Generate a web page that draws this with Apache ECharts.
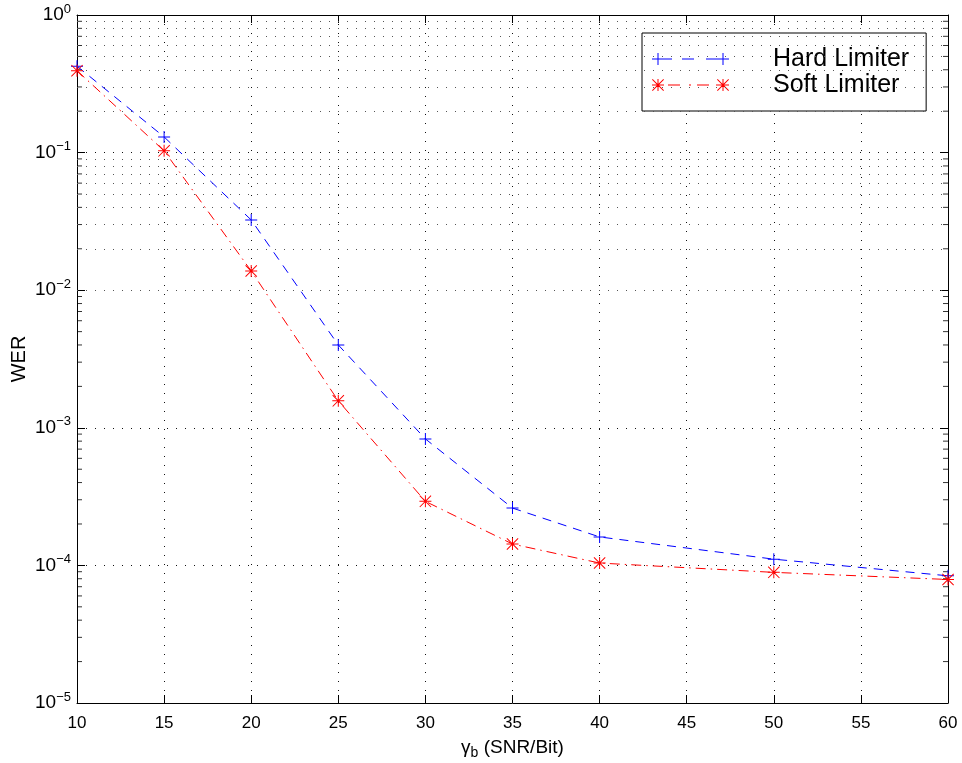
<!DOCTYPE html>
<html>
<head>
<meta charset="utf-8">
<script src="https://cdn.jsdelivr.net/npm/echarts@6/dist/echarts.min.js"></script>
<style>
  html, body { margin: 0; padding: 0; background: #fff; }
  #chart { width: 962px; height: 763px; }
</style>
</head>
<body>
<div id="chart"></div>
<script>
// WER vs SNR/Bit — hard vs soft limiter, log y axis (MATLAB-style look)

const SNR       = [10, 15, 20, 25, 30, 35, 40, 50, 60];
const WER_HARD  = [0.425, 0.130, 0.0324, 0.0040, 8.3e-4, 2.61e-4, 1.61e-4, 1.11e-4, 8.4e-5];
const WER_SOFT  = [0.394, 0.103, 0.0138, 0.00157, 2.92e-4, 1.43e-4, 1.04e-4, 8.9e-5, 7.9e-5];

const X_MIN = 10, X_MAX = 60, X_STEP = 5;
const Y_MIN = 1e-5, Y_MAX = 1;
// minor log grid: 2..9 x each decade
const DECADES = [1e-5, 1e-4, 1e-3, 1e-2, 1e-1];
const MULTS   = [2, 3, 4, 5, 6, 7, 8, 9];

const BLUE = "#0000ff";
const RED  = "#ff0000";
const FONT = "Liberation Sans, Arial, Helvetica, sans-serif";

// marker paths (filled thin bars, 12x12 box)
const PLUS_PATH = "path://M0,5.5h12v1h-12z M5.5,0h1v12h-1z";
const STAR_PATH = "path://M0,5.5h12v1h-12z M5.5,0h1v12h-1z M0.7,0L12,11.3L11.3,12L0,0.7z M11.3,0L12,0.7L0.7,12L0,11.3z";
// legend samples: marker - dashes - marker  (77x12 box)
const HARD_ICON = "path://M0,5.5h12v1h-12z M5.5,0h1v12h-1z M12,5.5h8v1h-8z M30,5.5h12v1h-12z M54,5.5h11v1h-11z M65,5.5h12v1h-12z M70.5,0h1v12h-1z";
const SOFT_ICON = "path://M0,5.5h12v1h-12z M5.5,0h1v12h-1z M0.7,0L12,11.3L11.3,12L0,0.7z M11.3,0L12,0.7L0.7,12L0,11.3z"
  + " M16,5.5h12v1h-12z M37,5.5h2v1h-2z M45,5.5h12v1h-12z M64,5.5h2v1h-2z"
  + " M65,5.5h12v1h-12z M70.5,0h1v12h-1z M65.7,0L77,11.3L76.3,12L65,0.7z M76.3,0L77,0.7L65.7,12L65,11.3z";

const minorVals = [];
DECADES.forEach(d => MULTS.forEach(m => minorVals.push(+(d * m).toPrecision(3))));

const chart = echarts.init(document.getElementById("chart"), null, { renderer: "canvas" });

const dotted = { color: "#111", type: [1, 8], width: 1 };

function expLabel(v) {
  const e = Math.round(Math.log10(v));
  const s = e < 0 ? "\u2212" + (-e) : String(e);
  return `{b|10}{s|${s}}`;
}

const yBase = {
  type: "log", logBase: 10, min: Y_MIN, max: Y_MAX,
  axisLine: { show: true, lineStyle: { color: "#000", width: 1 } },
  axisTick: { show: true, inside: true, length: 8, lineStyle: { color: "#000" } },
  splitLine: { show: false },
};
const xBase = {
  type: "value", min: X_MIN, max: X_MAX, interval: X_STEP,
  axisLine: { show: true, onZero: false, lineStyle: { color: "#000", width: 1 } },
  axisTick: { show: true, inside: true, length: 8, lineStyle: { color: "#000" } },
  splitLine: { show: false },
};

const minorTick = (x, off) => ({
  type: "scatter", xAxisIndex: 0, yAxisIndex: 0, silent: true,
  symbol: "rect", symbolSize: [5, 1], symbolOffset: [off, 0],
  itemStyle: { color: "#000" }, clip: false, z: 1,
  data: minorVals.map(v => [x, v]),
});

chart.setOption({
  backgroundColor: "#fff", animation: false,
  textStyle: { fontFamily: FONT },
  grid: { left: 77, right: 14, top: 15, bottom: 60, containLabel: false, outerBoundsMode: "none" },
  legend: {
    orient: "vertical", left: 642, top: 33,
    backgroundColor: "#fff", borderColor: "#000", borderWidth: 1, borderRadius: 0,
    padding: [13, 17, 13, 10], itemGap: 0,
    itemWidth: 77, itemHeight: 12,
    textStyle: { color: "#000", fontSize: 25, lineHeight: 26, padding: [0, 0, 0, 39], fontFamily: FONT },
    data: [
      { name: "Hard Limiter", icon: HARD_ICON },
      { name: "Soft Limiter", icon: SOFT_ICON },
    ],
  },
  xAxis: [
    { ...xBase, position: "bottom",
      name: "{g|\u03b3}{sub|b}{t| (SNR/Bit)}", nameLocation: "middle", nameGap: 33,
      nameMoveOverlap: false,
      nameTextStyle: { rich: {
        g: { fontSize: 19, color: "#000", fontFamily: FONT },
        sub: { fontSize: 14, color: "#000", padding: [10, 0, 0, 0], fontFamily: FONT },
        t: { fontSize: 19, color: "#000", fontFamily: FONT },
      } },
      axisLabel: { color: "#000", fontSize: 17, margin: 12, fontFamily: FONT },
      splitLine: { show: true, lineStyle: dotted } },
    { ...xBase, position: "top", axisLabel: { show: false } },
  ],
  yAxis: [
    { ...yBase, position: "left",
      name: "WER", nameLocation: "middle", nameGap: 48, nameMoveOverlap: false,
      nameTextStyle: { color: "#000", fontSize: 20, fontFamily: FONT },
      axisLabel: {
        margin: 6, formatter: expLabel,
        rich: {
          b: { fontSize: 19, color: "#000", fontFamily: FONT, lineHeight: 20 },
          s: { fontSize: 13, color: "#000", fontFamily: FONT, padding: [0, 0, 12, 0] },
        },
      },
      splitLine: { show: true, lineStyle: dotted } },
    { ...yBase, position: "right", axisLabel: { show: false } },
  ],
  series: [
    minorTick(X_MIN, 2.5),
    minorTick(X_MAX, -2.5),
    {
      name: "Hard Limiter", type: "line", xAxisIndex: 0, yAxisIndex: 0,
      data: SNR.map((x, i) => [x, WER_HARD[i]]),
      symbol: PLUS_PATH, symbolSize: 12, showAllSymbol: true,
      itemStyle: { color: BLUE },
      lineStyle: { color: BLUE, width: 1, type: [9, 7] },
      z: 5,
      markLine: {
        silent: true, symbol: "none", label: { show: false },
        lineStyle: { color: "#555", type: [1, 8], width: 1 },
        data: minorVals.map(v => ({ yAxis: v })),
      },
    },
    {
      name: "Soft Limiter", type: "line", xAxisIndex: 0, yAxisIndex: 0,
      data: SNR.map((x, i) => [x, WER_SOFT[i]]),
      symbol: STAR_PATH, symbolSize: 12, showAllSymbol: true,
      itemStyle: { color: RED },
      lineStyle: { color: RED, width: 1, type: [10, 5, 1.5, 5] },
      z: 6,
    },
  ],
});
</script>
</body>
</html>
